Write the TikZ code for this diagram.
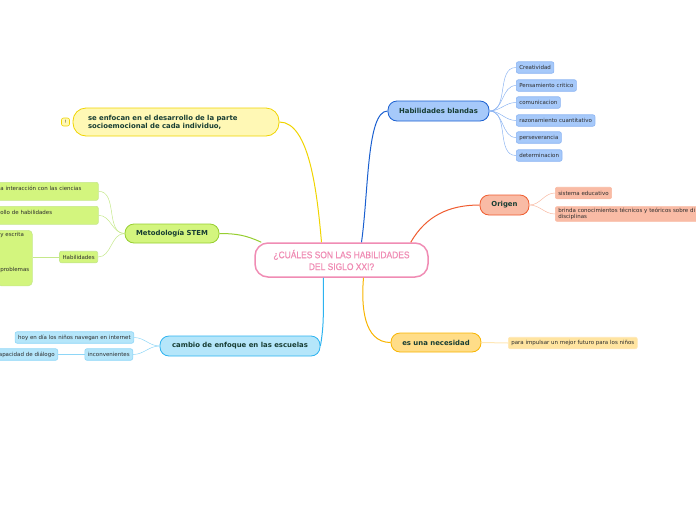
\documentclass[tikz,border=0pt]{standalone}
\usepackage{fontspec}
\setmainfont{DejaVu Sans}
\newfontfamily\rootfont[FakeStretch=0.88,FakeBold=0.6]{Liberation Sans}
\definecolor{txt}{HTML}{173D33}
\definecolor{leaftxt}{HTML}{2C2C2C}
\definecolor{rootpink}{HTML}{F08CB4}
\definecolor{socfill}{HTML}{FFF8B5}
\definecolor{socline}{HTML}{F0D400}
\definecolor{stemfill}{HTML}{D3F57E}
\definecolor{stemline}{HTML}{96CE30}
\definecolor{stemtwig}{HTML}{C5E88A}
\definecolor{camfill}{HTML}{B5E6FA}
\definecolor{camline}{HTML}{2DB3F0}
\definecolor{camtwig}{HTML}{8ED6F7}
\definecolor{habfill}{HTML}{A6C9FA}
\definecolor{habline}{HTML}{1A5FD0}
\definecolor{habtwig}{HTML}{8CB4F2}
\definecolor{orifill}{HTML}{F9BBA5}
\definecolor{oriline}{HTML}{EF5C2F}
\definecolor{oritwig}{HTML}{F8B9A2}
\definecolor{necfill}{HTML}{FFDD88}
\definecolor{necline}{HTML}{F8B400}
\definecolor{nectwig}{HTML}{FFE7B5}

\begin{document}
\begin{tikzpicture}[x=1pt,y=-1pt,
    topic/.style={draw,rounded corners=9pt,line width=0.8pt,minimum height=20pt,inner xsep=4pt,
      font=\fontsize{6.9}{8.2}\selectfont\bfseries,text=txt},
    leaf/.style={draw,rounded corners=2pt,line width=0.6pt,minimum height=11.5pt,inner xsep=3pt,
      inner ysep=1.5pt,font=\fontsize{5.5}{7}\selectfont,text=leaftxt},
    link/.style={line width=1pt},
    twig/.style={line width=0.5pt}]
  \useasboundingbox (0,0) rectangle (696,520);
  \clip (0,0) rectangle (696,520);
  % central topic
  \node[draw=rootpink,fill=white,line width=1.5pt,rounded corners=13pt,minimum width=173pt,minimum height=34pt,
    align=center,text=rootpink,font=\rootfont\fontsize{9.6}{11.8}\selectfont] (root) at (341.5,260)
    {¿CUÁLES SON LAS HABILIDADES\\DEL SIGLO XXI?};
  % main topics
  \node[topic,draw=socline,fill=socfill,rounded corners=13pt,minimum height=28pt,text width=176pt,
    inner xsep=15pt,align=left] (soc) at (176,122)
    {se enfocan en el desarrollo de la parte\\socioemocional de cada individuo,};
  \node[leaf,draw=socline,fill=socfill,minimum width=8pt,minimum height=8pt,inner sep=0pt,
    font=\fontsize{4.5}{5}\selectfont] (bang) at (65.5,122) {!};
  \node[topic,draw=stemline,fill=stemfill,minimum width=94pt,minimum height=19pt] (stem) at (172,233.5) {Metodología STEM};
  \node[topic,draw=camline,fill=camfill,minimum width=160pt] (cam) at (240,346) {cambio de enfoque en las escuelas};
  \node[topic,draw=habline,fill=habfill,minimum width=101pt] (hab) at (438.5,111) {Habilidades blandas};
  \node[topic,draw=oriline,fill=orifill,minimum width=49pt] (ori) at (504.5,205) {Origen};
  \node[topic,draw=necline,fill=necfill,minimum width=90pt,minimum height=19pt] (nec) at (436,342.5) {es una necesidad};
  % leaves of Habilidades blandas
  \node[leaf,draw=habtwig,fill=habfill,anchor=west] (c1) at (516,67.5) {Creatividad};
  \node[leaf,draw=habtwig,fill=habfill,anchor=west] (c2) at (516,85.5) {Pensamiento critico};
  \node[leaf,draw=habtwig,fill=habfill,anchor=west] (c3) at (516,102.5) {comunicacion};
  \node[leaf,draw=habtwig,fill=habfill,anchor=west] (c4) at (516,120.5) {razonamiento cuantitativo};
  \node[leaf,draw=habtwig,fill=habfill,anchor=west] (c5) at (516,137.5) {perseverancia};
  \node[leaf,draw=habtwig,fill=habfill,anchor=west] (c6) at (516,155.5) {determinacion};
  % leaves of Origen
  \node[leaf,draw=oritwig,fill=orifill,anchor=west] (o1) at (555,193) {sistema educativo};
  \node[leaf,draw=oritwig,fill=orifill,anchor=west,text width=200pt,align=left,font=\fontsize{5.5}{6.3}\selectfont]
    (o2) at (555,214) {brinda conocimientos técnicos y teóricos sobre di\\disciplinas};
  % leaf of es una necesidad
  \node[leaf,draw=nectwig,fill=necfill!80!white,anchor=west] (n1) at (508,343) {para impulsar un mejor futuro para los niños};
  % leaves of cambio de enfoque
  \node[leaf,draw=camtwig,fill=camfill,anchor=east] (k1) at (134,337.5) {hoy en día los niños navegan en internet};
  \node[leaf,draw=camtwig,fill=camfill,anchor=east] (k2) at (133,354.5) {inconvenientes};
  \node[leaf,draw=camtwig,fill=camfill,anchor=east,text width=80pt,align=right] (k3) at (58,354.5) {apacidad de diálogo};
  % leaves of Metodología STEM
  \node[leaf,draw=stemtwig,fill=stemfill,anchor=north west,text width=95pt,align=left,text height=6.5pt,
    text depth=8.5pt] (s1) at (-3,182) {a interacción con las ciencias};
  \node[leaf,draw=stemtwig,fill=stemfill,anchor=north west,text width=95pt,align=left,text height=6.5pt,
    text depth=8.5pt] (s2) at (-3,206) {ollo de habilidades};
  \node[leaf,draw=stemtwig,fill=stemfill,anchor=east] (s3) at (98,257) {Habilidades};
  \node[leaf,draw=stemtwig,fill=stemfill,anchor=north west,text width=29pt,align=left,rounded corners=4pt,
    text height=5pt,text depth=47.5pt] (s4) at (-3,230) {y escrita\\[28pt]problemas};
  % connectors
  \draw[link,draw=socline] ([xshift=-20pt]root.north) to[out=95,in=0,in looseness=0.6] (soc.east);
  \draw[link,draw=habline] ([xshift=20pt]root.north) to[out=82,in=180,in looseness=0.4] (hab.west);
  \draw[link,draw=stemline] ([xshift=7pt]root.north west) to[out=155,in=0] (stem.east);
  \draw[link,draw=camline] ([xshift=-18pt]root.south) to[out=-92,in=80] (cam.east);
  \draw[link,draw=oriline] ([xshift=-18pt]root.north east) to[out=60,in=180] (ori.west);
  \draw[link,draw=necline] ([xshift=22pt]root.south) to[out=-95,in=180] (nec.west);
  \foreach \n in {c1,c2,c3,c4,c5,c6}
    \draw[twig,draw=habtwig] (hab.east) to[out=0,in=180] (\n.west);
  \foreach \n in {o1,o2}
    \draw[twig,draw=oritwig] (ori.east) to[out=0,in=180] (\n.west);
  \foreach \n in {s1,s2,s3}
    \draw[twig,draw=stemtwig] (stem.west) to[out=180,in=0] (\n.east);
  \foreach \n in {k1,k2}
    \draw[twig,draw=camtwig] (cam.west) to[out=180,in=0] (\n.east);
  \draw[twig,draw=stemtwig] (s3.west) -- (s4.east |- s3.west);
  \draw[twig,draw=camtwig] (k2.west) -- (k3.east);
  \draw[twig,draw=nectwig,line width=1pt] (nec.east) -- (n1.west);
\end{tikzpicture}
\end{document}
